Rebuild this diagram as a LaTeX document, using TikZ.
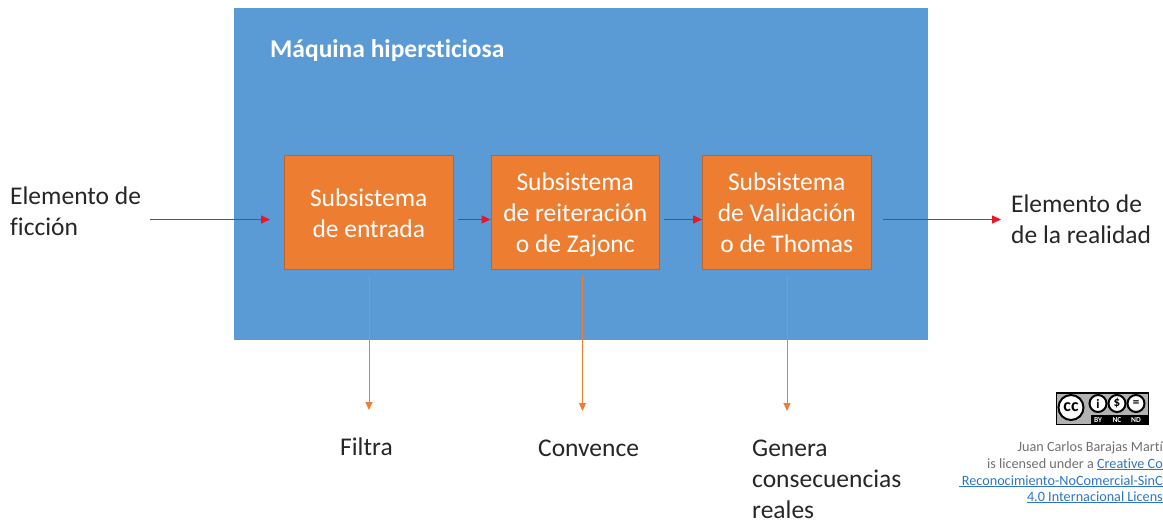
\documentclass[tikz,border=0pt]{standalone}
\usepackage{fontspec}
\setmainfont{Carlito}[Ligatures=NoCommon]
\usetikzlibrary{arrows.meta}
\definecolor{machine}{HTML}{5B9BD5}
\definecolor{sub}{HTML}{ED7D31}
\definecolor{subedge}{HTML}{B9652B}
\definecolor{ink}{HTML}{262626}
\definecolor{linkc}{HTML}{2E75C5}
\definecolor{graytxt}{HTML}{707070}
\definecolor{redline}{HTML}{EE1428}
\tikzset{
 subbox/.style={draw=subedge,line width=0.8pt,fill=sub,minimum width=168.5pt,minimum height=113.5pt,inner sep=0pt,text=white,align=center,font=\fontsize{25.5}{31}\selectfont},
 lbl/.style={anchor=west,align=left,text=ink,inner sep=0pt,font=\fontsize{25.5}{31}\selectfont},
 redarrow/.style={draw=redline,line width=1.2pt,-{Triangle[length=9pt,width=8pt]}},
 orarrow/.style={draw=sub,line width=1pt,-{Triangle[length=8pt,width=7pt]}},
 lic/.style={inner sep=0pt,anchor=base east,font=\fontsize{14.2}{16}\selectfont,text=graytxt},
 badge/.style={fill=white,draw=black,line width=2pt,circle,inner sep=0pt},
 smallbadge/.style={badge,minimum size=17pt,font=\bfseries\fontsize{13}{13}\selectfont},
 badgetxt/.style={inner sep=0pt,text=white,font=\bfseries\fontsize{7.5}{7.5}\selectfont}
}
\newcommand{\ulk}[1]{\textcolor{linkc}{\underline{\smash{#1}}}}
\newcommand{\topstrut}{\rule{0pt}{28pt}}
\begin{document}
\begin{tikzpicture}[x=1pt,y=-1pt]
\useasboundingbox (0,0) rectangle (1163,524);
\fill[machine] (234,8) rectangle (928,340);
\node[anchor=west,inner sep=0pt,text=white,font=\bfseries\fontsize{25.5}{28}\selectfont] (title) at (270,51) {Máquina hipersticiosa};
\node[subbox] (a) at (368.75,212.25) {\topstrut Subsistema\\de entrada\strut};
\node[subbox] (b) at (575.25,212.25) {\topstrut Subsistema\\de reiteración\\o de Zajonc\strut};
\node[subbox] (c) at (786.75,212.25) {\topstrut Subsistema\\de Validación\\o de Thomas\strut};
\node[lbl] (in) at (10,211) {Elemento de\\ficción};
\node[lbl] (out) at (1011,219.5) {Elemento de\\de la realidad};
\node[lbl] (f) at (340,447) {Filtra};
\node[lbl] (co) at (538,448) {Convence};
\node[lbl] (g) at (752,479.5) {Genera\\consecuencias\\reales};
\coordinate (inS) at (150,219.5);
\coordinate (inE) at (270,219.5);
\coordinate (abS) at (458,219.5);
\coordinate (bcS) at (664,219.5);
\coordinate (outS) at (883,219.5);
\coordinate (outE) at (1001,219.5);
\draw[redarrow] (inS) -- (inE);
\draw[redarrow] (abS) -- (abS -| b.west);
\draw[redarrow] (bcS) -- (bcS -| c.west);
\draw[redarrow] (outS) -- (outE);
\coordinate (fS) at (369,275); \coordinate (fE) at (369,410);
\coordinate (cS) at (582.5,275); \coordinate (cE) at (582.5,411);
\coordinate (gS) at (787,275); \coordinate (gE) at (787,411);
\draw[orarrow] (fS) -- (fE);
\draw[orarrow] (cS) -- (cE);
\draw[orarrow] (gS) -- (gE);
% CC badge
\fill[black] (1055.5,392) rectangle (1149,425);
\fill[black!30] (1057,393.5) rectangle (1147.5,423.5);
\fill[black] (1091,414.5) rectangle (1149,425);
\node[badge,minimum size=25pt,font=\bfseries\fontsize{18}{18}\selectfont] (cc) at (1071,407.5) {cc};
\node[smallbadge] (by) at (1098,403.5) {i};
\node[smallbadge] (nc) at (1117,403.5) {\$};
\node[smallbadge] (nd) at (1136,403.5) {=};
\node[badgetxt] (byt) at (1098,420) {BY};
\node[badgetxt] (nct) at (1117,420) {NC};
\node[badgetxt] (ndt) at (1136,420) {ND};
% licence
\node[lic] (l1) at (1163,451.5) {Juan Carlos Barajas Martí};
\node[lic] (l2) at (1163,468) {is licensed under a \ulk{Creative Co}};
\node[lic] (l3) at (1163,485) {\ulk{\ Reconocimiento-NoComercial-SinC}};
\node[lic] (l4) at (1163,501) {\ulk{4.0 Internacional Licens}};
\end{tikzpicture}
\end{document}
